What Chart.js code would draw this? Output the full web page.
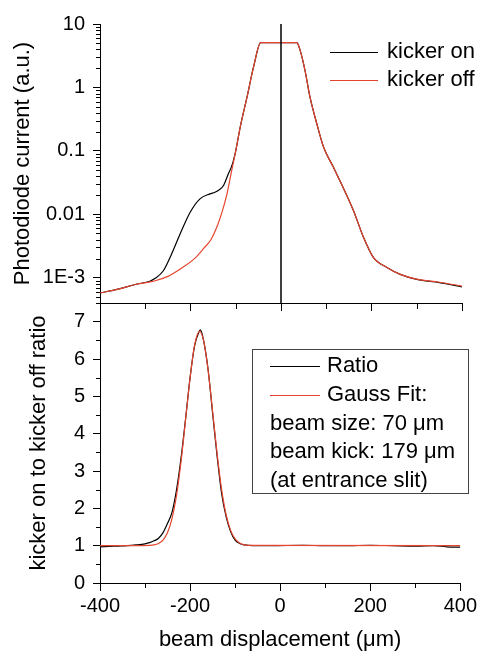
<!DOCTYPE html>
<html lang="en">
<head>
  <meta charset="UTF-8">
  <title>Kicker on / off beam profile</title>
  <script src="https://cdn.jsdelivr.net/npm/chart.js"></script>
  <style>
    body {
      margin: 0;
      background: #ffffff;
    }
    .wrap {
      position: relative;
      width: 480px;
      height: 653px;
    }
    .wrap canvas {
      position: absolute;
      left: 0;
      top: 0;
    }
  </style>
</head>
<body>
  <div class="wrap">
    <canvas id="profileChart" width="480" height="653"></canvas>
    <canvas id="ratioChart" width="480" height="653"></canvas>
  </div>

  <script>
    // ---- data ----
    // top panel: photodiode current (log scale)
    const kickerOffX = [-400, -360, -320, -280, -250, -220, -190, -170, -155, -140, -130, -120, -110, -100, -90, -75, -60, -45,
                        35, 42, 53, 64, 79, 94, 116, 130, 160, 182, 204, 234, 265, 300, 350, 400];
    const kickerOffY = [5.75e-4, 6.6e-4, 7.9e-4, 8.9e-4, 1.05e-3, 1.41e-3, 2.04e-3, 2.95e-3, 3.98e-3, 6.8e-3, 0.011, 0.02, 0.045, 0.10, 0.24, 0.71, 2.2, 5.1,
                        5.1, 3.9, 1.86, 0.71, 0.27, 0.115, 0.055, 0.034, 0.0115, 4.4e-3, 2.1e-3, 1.45e-3, 1.12e-3, 9.5e-4, 8.5e-4, 7.4e-4];

    const kickerOnX = [-400, -360, -320, -290, -278, -260, -242, -223, -201, -179, -157, -146, -138, -127, -116, -110, -105, -100, -90, -75, -60, -45,
                       35, 42, 53, 64, 79, 94, 116, 130, 160, 182, 204, 234, 265, 300, 350, 400];
    const kickerOnY = [5.75e-4, 6.6e-4, 7.9e-4, 8.8e-4, 9.8e-4, 1.29e-3, 2.35e-3, 4.9e-3, 0.0107, 0.0175, 0.021, 0.0223, 0.024, 0.0285, 0.044, 0.055, 0.071, 0.10, 0.24, 0.71, 2.2, 5.1,
                       5.1, 3.9, 1.86, 0.71, 0.27, 0.115, 0.055, 0.034, 0.0115, 4.4e-3, 2.1e-3, 1.45e-3, 1.12e-3, 9.4e-4, 8.4e-4, 7.2e-4];

    const zeroLineX = [0, 0];
    const zeroLineY = [10, 4e-4];

    // bottom panel: ratio and gauss fit
    const ratioX = [-400, -380, -360, -340, -320, -300, -290, -280, -270, -260, -250, -240, -230, -220, -210, -200, -190, -180, -177, -170,
                    -160, -150, -140, -130, -120, -110, -100, -90, -80, -60, -20, 50, 100, 150, 200, 250, 300, 340, 370, 400];
    const ratioY = [0.97, 0.98, 0.99, 1.0, 1.02, 1.05, 1.08, 1.13, 1.2, 1.35, 1.6, 1.9, 2.5, 3.35, 4.4, 5.5, 6.35, 6.73, 6.78, 6.5,
                    5.72, 4.55, 3.4, 2.4, 1.78, 1.38, 1.15, 1.06, 1.02, 1.0, 1.0, 1.01, 1.0, 1.0, 1.01, 1.0, 0.99, 1.0, 0.97, 0.96];

    const fitX = [-400, -290, -280, -270, -260, -250, -240, -230, -220, -210, -200, -190, -179, -170, -160, -150, -140, -130, -120, -110, -100, -90, -80, -70, 400];
    const fitY = [1.0, 1.01, 1.02, 1.06, 1.15, 1.35, 1.73, 2.35, 3.26, 4.37, 5.49, 6.37, 6.74, 6.49, 5.70, 4.60, 3.47, 2.51, 1.83, 1.41, 1.18, 1.07, 1.02, 1.01, 1.0];

    // ticks
    const topTickValues = [1e-3, 0.01, 0.1, 1, 10];
    const topTickLabels = ['1E-3', '0.01', '0.1', '1', '10'];
    const ratioTickValues = [0, 1, 2, 3, 4, 5, 6, 7];
    const ratioMinorValues = [0.5, 1.5, 2.5, 3.5, 4.5, 5.5, 6.5];
    const xMinorValues = [-300, -100, 100, 300];

    const fitNotes = ['beam size: 70 \u03bcm', 'beam kick: 179 \u03bcm', '(at entrance slit)'];

    // minor log ticks (2..9 in each decade)
    const logMinorValues = [];
    for (let e = -4; e <= 0; e++) {
      for (let k = 2; k <= 9; k++) {
        const v = k * Math.pow(10, e);
        if (v >= 4e-4 && v <= 10) logMinorValues.push(v);
      }
    }

    const RED = '#e5452f';
    const FONT = "'Liberation Sans', Arial, sans-serif";
    Chart.defaults.font.family = FONT;
    Chart.defaults.color = '#000';

    const pts = (xs, ys) => xs.map((x, i) => ({ x: x, y: ys[i] }));

    // short tick marks between the labelled ones
    const minorTicks = {
      id: 'minorTicks',
      afterDraw(chart, args, opts) {
        const ctx = chart.ctx;
        ctx.save();
        ctx.strokeStyle = '#000';
        ctx.lineWidth = 1;
        (opts.list || []).forEach(m => {
          const s = chart.scales[m.id];
          m.values.forEach(v => {
            const p = Math.round(s.getPixelForValue(v)) + 0.5;
            ctx.beginPath();
            if (s.isHorizontal()) {
              ctx.moveTo(p, s.top);
              ctx.lineTo(p, s.top + m.len);
            } else {
              ctx.moveTo(s.right, p);
              ctx.lineTo(s.right - m.len, p);
            }
            ctx.stroke();
          });
        });
        ctx.restore();
      }
    };

    // legend drawn inside the plot
    const plotLegend = {
      id: 'plotLegend',
      afterDraw(chart, args, o) {
        const ctx = chart.ctx;
        ctx.save();
        if (o.box) {
          ctx.strokeStyle = '#444';
          ctx.lineWidth = 1;
          ctx.strokeRect(o.box[0] + 0.5, o.box[1] + 0.5, o.box[2], o.box[3]);
        }
        ctx.font = '22px ' + FONT;
        ctx.textBaseline = 'middle';
        ctx.fillStyle = '#000';
        let y = o.y;
        o.items.forEach(i => {
          const ds = chart.data.datasets[i];
          ctx.strokeStyle = ds.borderColor;
          ctx.lineWidth = 1.2;
          ctx.beginPath();
          ctx.moveTo(o.lineX[0], Math.round(y) + 0.5);
          ctx.lineTo(o.lineX[1], Math.round(y) + 0.5);
          ctx.stroke();
          ctx.fillText(ds.label, o.textX, y);
          y += o.step;
        });
        (o.notes || []).forEach(t => {
          ctx.fillText(t, o.noteX, y);
          y += o.step;
        });
        ctx.restore();
      }
    };

    const axisLine = { color: '#000', width: 1 };

    new Chart(document.getElementById('profileChart'), {
      type: 'line',
      data: {
        datasets: [
          { label: 'kicker on', data: pts(kickerOnX, kickerOnY), borderColor: '#000', borderWidth: 1.2, order: 1 },
          { label: 'kicker off', data: pts(kickerOffX, kickerOffY), borderColor: RED, borderWidth: 1.2, order: 0 },
          { label: 'zero', data: pts(zeroLineX, zeroLineY), borderColor: '#000', borderWidth: 1.5, order: -1, cubicInterpolationMode: 'default', tension: 0 }
        ]
      },
      options: {
        responsive: false,
        animation: false,
        events: [],
        layout: { padding: { top: 24, right: 18, bottom: 338, left: 0 } },
        elements: {
          point: { radius: 0 },
          line: { cubicInterpolationMode: 'monotone', fill: false }
        },
        plugins: {
          legend: { display: false },
          tooltip: { enabled: false },
          minorTicks: {
            list: [
              { id: 'y', values: logMinorValues, len: 4 },
              { id: 'x', values: xMinorValues, len: 6 }
            ]
          },
          plotLegend: { items: [0, 1], lineX: [330, 378], textX: 387, y: 52, step: 28.3 }
        },
        scales: {
          x: {
            type: 'linear', min: -400, max: 400,
            ticks: { stepSize: 200, display: false },
            grid: { drawOnChartArea: false, tickLength: 8, color: '#000' },
            border: axisLine,
            afterFit(s) { s.height = 12; }
          },
          y: {
            type: 'logarithmic', min: 4e-4, max: 10,
            afterBuildTicks(s) { s.ticks = topTickValues.map(v => ({ value: v })); },
            ticks: { callback: (v, i) => topTickLabels[i], padding: 8, font: { size: 20 }, autoSkip: false },
            grid: { drawOnChartArea: false, tickLength: 7, color: '#000' },
            border: axisLine,
            title: { display: true, text: 'Photodiode current (a.u.)', font: { size: 22 }, padding: { top: 10, bottom: 0 } },
            afterFit(s) { s.width = 100; }
          }
        }
      },
      plugins: [minorTicks, plotLegend]
    });

    new Chart(document.getElementById('ratioChart'), {
      type: 'line',
      data: {
        datasets: [
          { label: 'Ratio', data: pts(ratioX, ratioY), borderColor: '#000', borderWidth: 1.2, order: 1 },
          { label: 'Gauss Fit:', data: pts(fitX, fitY), borderColor: RED, borderWidth: 1.2, order: 0 }
        ]
      },
      options: {
        responsive: false,
        animation: false,
        events: [],
        layout: { padding: { top: 303, right: 18, bottom: 0, left: 0 } },
        elements: {
          point: { radius: 0 },
          line: { cubicInterpolationMode: 'monotone', fill: false }
        },
        plugins: {
          legend: { display: false },
          tooltip: { enabled: false },
          minorTicks: {
            list: [
              { id: 'y', values: ratioMinorValues, len: 4 },
              { id: 'x', values: xMinorValues, len: 5 }
            ]
          },
          plotLegend: { box: [252, 349, 216, 144], items: [0, 1], lineX: [270, 320], textX: 327, noteX: 270, notes: fitNotes, y: 366, step: 28.8 }
        },
        scales: {
          x: {
            type: 'linear', min: -400, max: 400,
            ticks: { stepSize: 200, padding: 3, font: { size: 20 } },
            grid: { drawOnChartArea: false, tickLength: 8, color: '#000' },
            border: axisLine,
            title: { display: true, text: 'beam displacement (\u03bcm)', font: { size: 22 }, padding: { top: 0, bottom: 0 } },
            afterFit(s) { s.height = 70; }
          },
          y: {
            type: 'linear', min: 0, max: 7.5,
            afterBuildTicks(s) { s.ticks = ratioTickValues.map(v => ({ value: v })); },
            ticks: { padding: 8, font: { size: 20 }, autoSkip: false },
            grid: { drawOnChartArea: false, tickLength: 7, color: '#000' },
            border: axisLine,
            title: { display: true, text: 'kicker on to kicker off ratio', font: { size: 22 }, padding: { top: 26, bottom: 0 } },
            afterFit(s) { s.width = 100; }
          }
        }
      },
      plugins: [minorTicks, plotLegend]
    });
  </script>
</body>
</html>
